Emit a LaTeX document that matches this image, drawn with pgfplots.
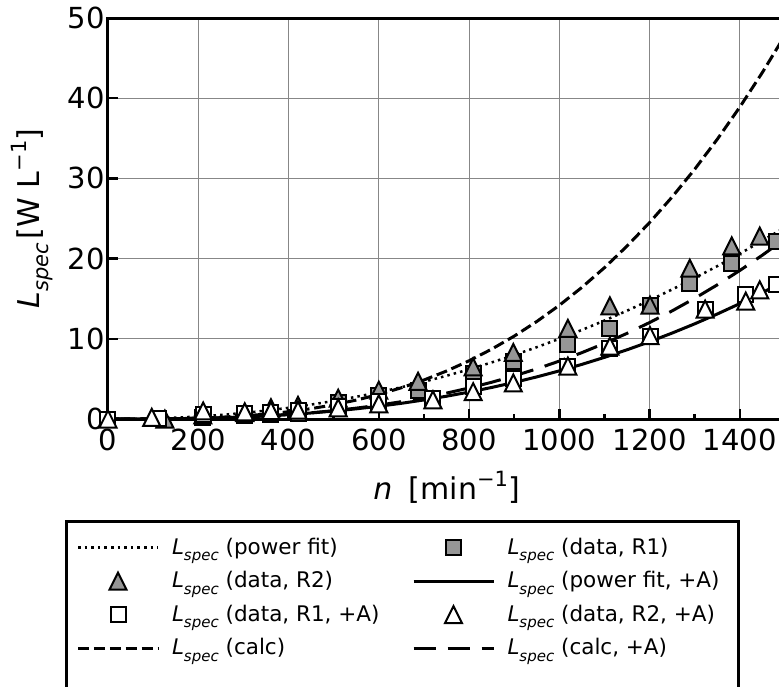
\documentclass[border=0pt]{standalone}
\usepackage{fontspec}
\setmainfont{DejaVu Sans}[ItalicFont={DejaVu Sans Oblique}]
\usepackage{pgfplots}
\pgfplotsset{compat=1.18}

\definecolor{markgray}{RGB}{150,150,150}
\definecolor{gridgray}{RGB}{135,135,135}

% triangle whose bounding box is centred on the data point
\pgfdeclareplotmark{tri}{%
  \pgfpathmoveto{\pgfqpoint{0pt}{\pgfplotmarksize}}%
  \pgfpathlineto{\pgfqpoint{-\pgfplotmarksize}{-\pgfplotmarksize}}%
  \pgfpathlineto{\pgfqpoint{\pgfplotmarksize}{-\pgfplotmarksize}}%
  \pgfpathclose
  \pgfusepathqfillstroke
}

\newcommand{\LspecLeg}{\textit{L}\raisebox{-6.5pt}{\fontsize{15}{15}\selectfont\textit{spec}}}
\newcommand{\LspecAx}{\textit{L}\raisebox{-9pt}{\fontsize{21}{21}\selectfont\textit{spec}}}
\newcommand{\supm}[1]{\raisebox{0.42em}{\fontsize{21}{21}\selectfont #1}}
\newcommand{\entA}[1]{\makebox[240pt][l]{#1}}
\newcommand{\entB}[1]{\makebox[221pt][l]{#1}}

\begin{document}
\begin{tikzpicture}
\useasboundingbox (-108pt,-267pt) rectangle (671pt,419pt);
\clip (-108pt,-267pt) rectangle (671pt,419pt);
\begin{axis}[
  at={(0pt,0pt)}, anchor=south west,
  scale only axis, width=677pt, height=401pt,
  xmin=0, xmax=1500, ymin=0, ymax=50,
  xtick={0,200,...,1400}, minor x tick num=1,
  ytick={0,10,...,50},
  xtick pos=bottom, ytick pos=left,
  tick align=inside,
  major tick length=10pt, minor tick length=5pt,
  every tick/.style={black, line width=2.5pt},
  axis line style={line width=3pt},
  grid=major,
  major grid style={gridgray, line width=1pt},
  clip=false,
  /pgf/number format/assume math mode=true,
  /pgf/number format/1000 sep={},
  tick label style={font=\fontsize{29}{34}\selectfont},
  xticklabel style={yshift=-6pt},
  yticklabel style={xshift=0pt},
  xlabel={\textit{n}\hspace{0.55em}[min\supm{−1}]},
  ylabel={\LspecAx\hspace{0.12em}[W L\supm{−1}]},
  every axis x label/.style={at={(axis description cs:0.5,-0.2007)}, anchor=base,
    font=\fontsize{30}{36}\selectfont},
  every axis y label/.style={at={(axis description cs:-0.1019,0.5)}, rotate=90, anchor=base,
    font=\fontsize{30}{36}\selectfont},
  legend columns=2,
  legend cell align=left,
  legend image code/.code={\draw[mark repeat=2,mark phase=2,#1] plot coordinates {(0pt,0pt) (40pt,0pt) (80pt,0pt)};},
  legend style={
    at={(axis description cs:-0.0635,-0.2519)}, anchor=north west,
    draw=black, line width=3pt, fill=white,
    inner xsep=10pt, inner ysep=12.5pt,
    font=\fontsize{21.5}{26}\selectfont,
    row sep=6.6pt,
    nodes={inner sep=0pt, text height=20pt, text depth=7pt},
    /tikz/every odd column/.append style={column sep=12.5pt},
  },
]
% power fit
\addplot[black, line width=2.5pt, dash pattern=on 2.5pt off 4.1pt] coordinates {
(0,0) (50,0.016) (100,0.071) (150,0.169) (200,0.314) (250,0.508) (300,0.751)
(350,1.047) (400,1.395) (450,1.796) (500,2.253) (550,2.766) (600,3.335)
(650,3.961) (700,4.645) (750,5.387) (800,6.190) (850,7.051) (900,7.973)
(950,8.956) (1000,10.0) (1050,11.106) (1100,12.274) (1150,13.505)
(1200,14.799) (1250,16.157) (1300,17.578) (1350,19.064) (1400,20.615)
(1450,22.230) (1500,23.911)};
\addlegendentry{\entA{\LspecLeg\ (power fit)}}
% data, R1
\addplot[only marks, mark=square*, mark size=7.5pt,
  mark options={fill=markgray, draw=black, line width=2pt}] coordinates {
(0,0) (112,0.05) (210,0.2) (303,0.4) (361,0.55) (421,0.7) (510,2.0)
(600,2.9) (687,3.6) (809,5.7) (898,7.2) (1019,9.3) (1112,11.3)
(1201,14.2) (1289,16.9) (1382,19.4) (1482,22.1)};
\addlegendentry{\entB{\LspecLeg\ (data, R1)}}
% data, R2
\addplot[only marks, mark=tri, mark size=8.5pt,
  mark options={fill=markgray, draw=black, line width=2pt}] coordinates {
(126,0) (210,0.5) (303,0.8) (361,1.4) (421,1.7) (510,2.6) (600,3.6)
(687,4.7) (809,6.5) (898,8.3) (1019,11.3) (1112,14.1) (1201,14.2)
(1289,18.8) (1382,21.6) (1444,22.8)};
\addlegendentry{\entA{\LspecLeg\ (data, R2)}}
% power fit, +A
\addplot[black, line width=3pt] coordinates {
(0,0) (50,0.0025) (100,0.0151) (150,0.0433) (200,0.0914) (250,0.163)
(300,0.262) (350,0.392) (400,0.554) (450,0.752) (500,0.990) (550,1.268)
(600,1.590) (650,1.957) (700,2.373) (750,2.840) (800,3.359) (850,3.932)
(900,4.562) (950,5.250) (1000,6.0) (1050,6.812) (1100,7.687) (1150,8.629)
(1200,9.638) (1250,10.718) (1300,11.869) (1350,13.093) (1400,14.391)
(1450,15.766) (1500,17.218)};
\addlegendentry{\entB{\LspecLeg\ (power fit, +A)}}
% data, R1, +A
\addplot[only marks, mark=square*, mark size=7.5pt,
  mark options={fill=white, draw=black, line width=2pt}] coordinates {
(0,0) (112,0.1) (211,0.6) (303,0.7) (361,0.8) (421,1.1) (510,1.5)
(600,2.2) (720,2.6) (809,4.1) (898,5.1) (1019,6.6) (1112,8.8)
(1201,10.3) (1323,13.7) (1413,15.5) (1482,16.8)};
\addlegendentry{\entA{\LspecLeg\ (data, R1, +A)}}
% data, R2, +A
\addplot[only marks, mark=tri, mark size=8.5pt,
  mark options={fill=white, draw=black, line width=2pt}] coordinates {
(0,0) (97,0.2) (211,1.0) (303,0.9) (361,1.06) (421,1.1) (510,1.4)
(600,1.9) (720,2.4) (809,3.4) (898,4.5) (1019,6.6) (1112,9.1)
(1201,10.4) (1323,13.7) (1413,14.7) (1444,16.1)};
\addlegendentry{\entB{\LspecLeg\ (data, R2, +A)}}
% calc
\addplot[black, line width=3pt, dash pattern=on 11.1pt off 4.8pt] coordinates {
(0,0) (50,0.002) (100,0.014) (150,0.048) (200,0.113) (250,0.222) (300,0.383)
(350,0.608) (400,0.907) (450,1.292) (500,1.772) (550,2.359) (600,3.062)
(650,3.894) (700,4.863) (750,5.981) (800,7.259) (850,8.707) (900,10.336)
(950,12.156) (1000,14.178) (1050,16.413) (1100,18.871) (1150,21.563)
(1200,24.500) (1250,27.691) (1300,31.149) (1350,34.883) (1400,38.904)
(1450,43.223) (1500,47.851)};
\addlegendentry{\entA{\LspecLeg\ (calc)}}
% calc, +A
\addplot[black, line width=3pt, dash pattern=on 22pt off 12pt] coordinates {
(0,0) (50,0.002) (100,0.011) (150,0.036) (200,0.080) (250,0.149) (300,0.248)
(350,0.382) (400,0.555) (450,0.772) (500,1.037) (550,1.354) (600,1.728)
(650,2.161) (700,2.660) (750,3.227) (800,3.866) (850,4.580) (900,5.375)
(950,6.254) (1000,7.220) (1050,8.277) (1100,9.428) (1150,10.678)
(1200,12.029) (1250,13.486) (1300,15.052) (1350,16.730) (1400,18.522)
(1450,20.435) (1500,22.470)};
\addlegendentry{\entB{\LspecLeg\ (calc, +A)}}
\addlegendimage{empty legend}\addlegendentry{}
\addlegendimage{empty legend}\addlegendentry{}
\end{axis}
\end{tikzpicture}
\end{document}
